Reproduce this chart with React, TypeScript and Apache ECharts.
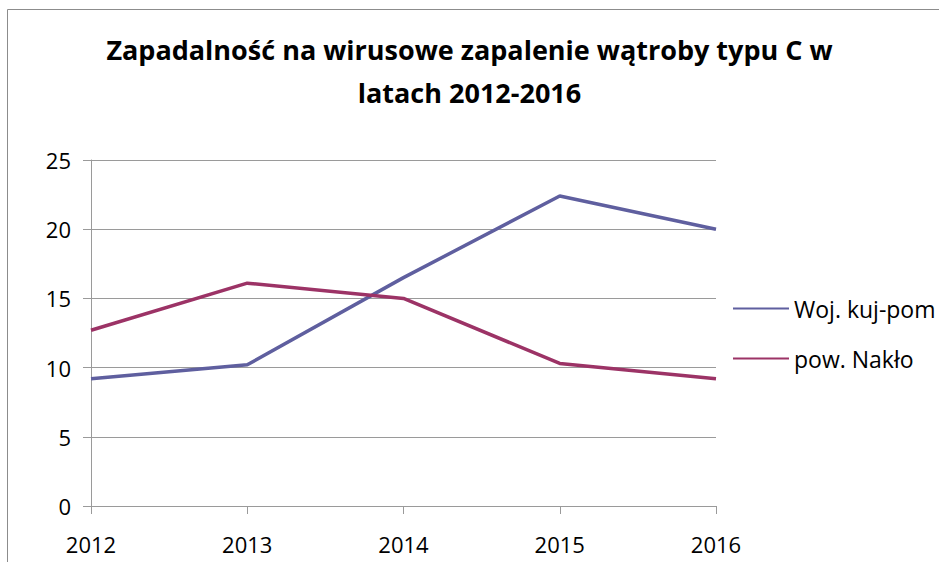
import React, { useEffect, useRef } from "react";
import * as echarts from "echarts";

const years = ["2012", "2013", "2014", "2015", "2016"];
const wojKujPom = [9.2, 10.2, 16.5, 22.4, 20.0];
const powNaklo = [12.7, 16.1, 15.0, 10.3, 9.2];
const seriesNames = ["Woj. kuj-pom", "pow. Nakło"];
const titleText = "Zapadalność na wirusowe zapalenie wątroby typu C w\nlatach 2012-2016";

export default function App() {
  const ref = useRef<HTMLDivElement>(null);
  useEffect(() => {
    if (!ref.current) return;
    const chart = echarts.init(ref.current, undefined, { renderer: "svg" });
    const font = "'Open Sans', 'Noto Sans', sans-serif";
    chart.setOption({
      animation: false,
      backgroundColor: "#ffffff",
      title: {
        text: titleText,
        left: "center",
        top: 28,
        padding: 0,
        textStyle: { fontFamily: font, fontSize: 27, fontWeight: "bold", color: "#000", lineHeight: 43 },
      },
      graphic: [
        {
          type: "rect",
          shape: { x: 7.5, y: 9.5, width: 1200, height: 1200 },
          style: { fill: "none", stroke: "#8c8c8c", lineWidth: 1 },
          silent: true,
        },
      ],
      legend: {
        orient: "vertical",
        left: 733,
        top: 297,
        padding: 0,
        itemWidth: 56,
        itemHeight: 20,
        itemGap: 27,
        data: seriesNames,
        icon: "path://M0,9 L56,9 L56,11 L0,11 Z",
        textStyle: { fontFamily: font, fontSize: 23, color: "#000", lineHeight: 20 },
      },
      grid: { left: 91, right: 223, top: 160, bottom: 56 },
      xAxis: {
        type: "category",
        data: years,
        boundaryGap: false,
        axisLine: { lineStyle: { color: "#9a9a9a", width: 1 } },
        axisTick: { show: true, length: 8, alignWithLabel: true, lineStyle: { color: "#9a9a9a" } },
        axisLabel: { fontFamily: font, fontSize: 22, color: "#000", margin: 27 },
      },
      yAxis: {
        type: "value",
        min: 0,
        max: 25,
        interval: 5,
        axisLine: { show: true, lineStyle: { color: "#9a9a9a", width: 1 } },
        axisTick: { show: true, length: 8, lineStyle: { color: "#9a9a9a" } },
        axisLabel: { fontFamily: font, fontSize: 22, color: "#000", margin: 20 },
        splitLine: { lineStyle: { color: "#9a9a9a", width: 1 } },
      },
      series: [
        {
          name: seriesNames[0],
          type: "line",
          data: wojKujPom,
          symbol: "none",
          color: "#5f5f9f",
          lineStyle: { width: 3.5, color: "#5f5f9f" },
        },
        {
          name: seriesNames[1],
          type: "line",
          data: powNaklo,
          symbol: "none",
          color: "#9c3366",
          lineStyle: { width: 3.5, color: "#9c3366" },
        },
      ],
    });
    return () => chart.dispose();
  }, []);
  return (
    <div style={{ position: "absolute", left: 0, top: 0 }}>
      <div ref={ref} style={{ width: 939, height: 562 }} />
    </div>
  );
}
